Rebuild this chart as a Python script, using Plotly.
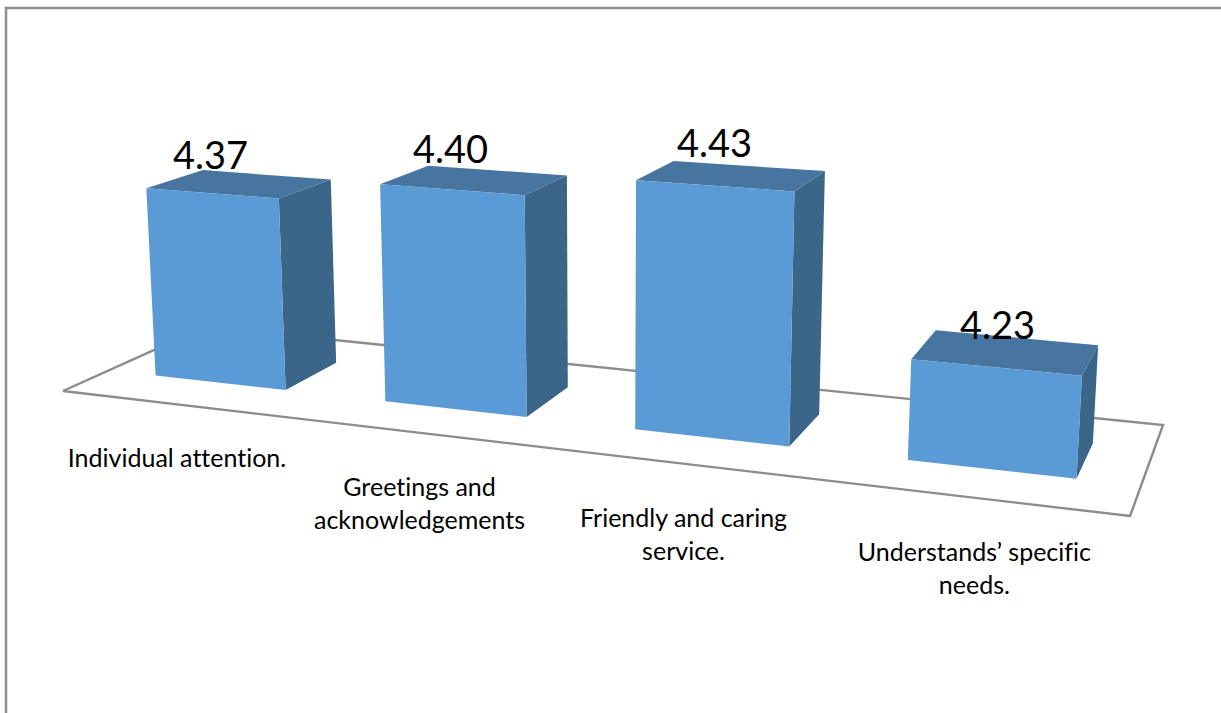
import plotly.graph_objects as go

# ---- chart data ----
categories = ["Individual attention.", "Greetings and<br>acknowledgements",
              "Friendly and caring<br>service.", "Understands’ specific<br>needs."]
values = [4.37, 4.40, 4.43, 4.23]
axis_min = 4.10

# ---- styling ----
FRONT = "#5B9BD5"
TOP = "#4775A0"
SIDE = "#3B6589"
FLOOR = "#8C8C8C"
BAR_W = 0.144
BAR_D0, BAR_D1 = 0.30, 0.70
LABEL_LIFT = 0.055

# ---- perspective camera: origin, vanishing points and their weights ----
ORIGIN = (63.0, 391.0)
VX, AX = (-5337.0, -241.6), -0.165
VY, AY = (1392.6, -208.2), 0.12
VZ, AZ = (605.0, 9500.0), -0.0765


def project(x, y, z=0.0):
    """Category position x, depth y, value above the axis minimum z -> page pixels."""
    w = 1 + AX * x + AY * y + AZ * z
    px = ORIGIN[0] + AX * x * VX[0] + AY * y * VY[0] + AZ * z * VZ[0]
    py = ORIGIN[1] + AX * x * VX[1] + AY * y * VY[1] + AZ * z * VZ[1]
    return px / w, py / w


def poly(points, fill, line=None, width=0):
    xs, ys = zip(*(project(*p) for p in points))
    return go.Scatter(
        x=list(xs) + [xs[0]], y=list(ys) + [ys[0]], mode="lines",
        fill="toself" if fill else "none", fillcolor=fill,
        line=dict(color=line or fill or "rgba(0,0,0,0)", width=width, ),
        hoverinfo="skip", showlegend=False)


fig = go.Figure()

# floor
fig.add_trace(poly([(0, 0), (1, 0), (1, 1), (0, 1)], "#FFFFFF", FLOOR, 2.4))

annotations = []
for i, (cat, v) in enumerate(zip(categories, values)):
    cx = (i + 0.5) / len(categories)
    x0, x1 = cx - BAR_W / 2, cx + BAR_W / 2
    z = v - axis_min
    # right side
    fig.add_trace(poly([(x1, BAR_D0, 0), (x1, BAR_D1, 0), (x1, BAR_D1, z), (x1, BAR_D0, z)], SIDE))
    # top
    fig.add_trace(poly([(x0, BAR_D0, z), (x1, BAR_D0, z), (x1, BAR_D1, z), (x0, BAR_D1, z)], TOP))
    # front
    fig.add_trace(poly([(x0, BAR_D0, 0), (x1, BAR_D0, 0), (x1, BAR_D0, z), (x0, BAR_D0, z)], FRONT))

    lx, ly = project(cx, BAR_D0, z + LABEL_LIFT)
    annotations.append(dict(x=lx, y=ly, text=f"{v:.2f}", xref="x", yref="y", showarrow=False,
                            xanchor="center", yanchor="middle",
                            font=dict(family="Lato", size=38, color="#000000")))
    tx, ty = project(cx, 0, 0)
    annotations.append(dict(x=tx, y=ty + 36, text=cat, xref="x", yref="y", showarrow=False,
                            xanchor="center", yanchor="top", align="center",
                            font=dict(family="Lato", size=25, color="#000000")))

fig.update_layout(
    width=1221, height=713, margin=dict(l=0, r=0, t=0, b=0),
    paper_bgcolor="#FFFFFF", plot_bgcolor="#FFFFFF", showlegend=False,
    xaxis=dict(range=[0, 1221], visible=False, fixedrange=True),
    yaxis=dict(range=[713, 0], visible=False, fixedrange=True),
    annotations=annotations,
    shapes=[dict(type="rect", xref="x", yref="y", x0=6, y0=8, x1=1240, y1=730,
                 line=dict(color="#8E8E8E", width=2.5), layer="below")],
)

fig.write_html(
    "out.html", config=dict(displayModeBar=False),
    post_script=(
        "document.body.style.margin='0';document.body.style.overflow='hidden';"
        "var s=document.createElement('style');"
        "s.textContent='text,tspan{font-variant-ligatures:none !important;"
        "font-feature-settings:\"liga\" 0,\"clig\" 0 !important;}';"
        "document.head.appendChild(s);"
    ),
)
